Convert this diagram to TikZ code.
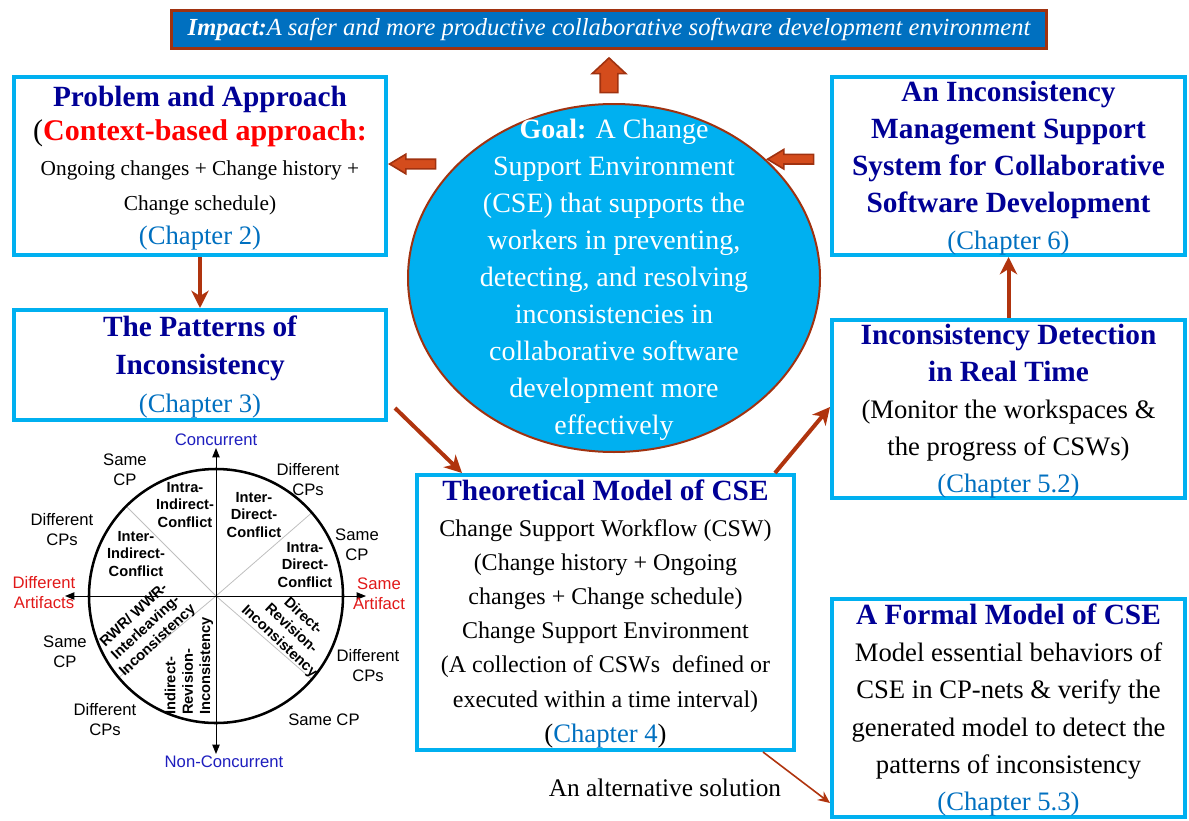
\documentclass[tikz,border=0pt]{standalone}
\usepackage{fontspec}
\setmainfont{Liberation Serif}
\newfontfamily\arialfont{Liberation Sans}
\usetikzlibrary{shapes.geometric,shapes.arrows,arrows.meta}

\definecolor{boxblue}{RGB}{0,176,240}
\definecolor{titleblue}{RGB}{0,0,150}
\definecolor{chapblue}{RGB}{0,112,192}
\definecolor{arrowbrown}{RGB}{176,52,14}
\definecolor{blockfill}{RGB}{212,76,28}
\definecolor{blockedge}{RGB}{160,50,16}
\definecolor{impactfill}{RGB}{0,112,192}
\definecolor{axisblue}{RGB}{30,30,190}
\definecolor{axisred}{RGB}{225,25,25}

\newcommand{\ttlfont}{\fontsize{22}{26}\selectfont\bfseries\color{titleblue}}
\newcommand{\chapfont}{\fontsize{20}{26}\selectfont\color{chapblue}}

\tikzset{every picture/.style={line width=0.75pt}}
\tikzset{
  chapbox/.style={rectangle, draw=boxblue, line width=3pt, fill=white, inner sep=0pt},
  boxtext/.style={align=center, inner sep=0pt},
  linkarrow/.style={draw=arrowbrown, line width=3pt, -{Stealth[length=13pt,width=13pt,inset=4pt]}},
  thinarrow/.style={draw=arrowbrown, line width=1.2pt, -{Stealth[length=9pt,width=8pt,inset=3pt]}},
  upblock/.style={single arrow, draw=blockedge, fill=blockfill, line width=1.2pt, inner xsep=0pt, inner ysep=6pt, single arrow head extend=6pt, single arrow tip angle=94, minimum height=26pt},
  sideblock/.style={single arrow, draw=blockedge, fill=blockfill, line width=1.2pt, inner xsep=0pt, inner ysep=3pt, single arrow head extend=3.75pt, single arrow tip angle=62, minimum height=34.5pt},
  outlbl/.style={align=center, inner sep=0pt, font=\arialfont\fontsize{12.5}{15}\selectfont},
  inlbl/.style={align=center, inner sep=0pt, font=\arialfont\bfseries\fontsize{11}{13}\selectfont},
  divline/.style={draw=black!25, line width=0.6pt},
  axisline/.style={line width=0.75pt, {Triangle[length=7pt,width=5.5pt]}-{Triangle[length=7pt,width=5.5pt]}},
}

\begin{document}
\begin{tikzpicture}[x=0.75pt,y=0.75pt,yscale=-1,xscale=1]
\useasboundingbox (0,0) rectangle (1189,821);

%Shape: Impact banner
\node[rectangle, draw=blockedge, fill=impactfill, line width=2pt, minimum width=656pt, minimum height=28.5pt, inner sep=0pt, text=white, font=\fontsize{18.4}{22}\selectfont\itshape] (impact) at (609,29.5) {\textbf{Impact:}A safer and more productive collaborative software development environment};

%Shape: Goal ellipse
\node[ellipse, draw=blockedge, fill=boxblue, line width=1.5pt, minimum width=309pt, minimum height=261pt, inner sep=0pt] (goal) at (614,278) {};
% Text Node
\node[boxtext, text=white, font=\fontsize{21}{27.75}\selectfont] (goaltext) at ([shift={(0,2)}]goal.center) {\textbf{Goal:} A Change\\Support Environment\\(CSE) that supports the\\workers in preventing,\\detecting, and resolving\\inconsistencies in\\collaborative software\\development more\\effectively};

%Shape: Chapter boxes
\node[chapbox, minimum width=279pt, minimum height=133.5pt] (probbox) at (200,166) {};
\node[chapbox, minimum width=279pt, minimum height=82.5pt] (patbox) at (200,365) {};
\node[chapbox, minimum width=282.75pt, minimum height=206.25pt] (theobox) at (605.5,612.5) {};
\node[chapbox, minimum width=264.75pt, minimum height=133.5pt] (mgmtbox) at (1008.5,166) {};
\node[chapbox, minimum width=264.75pt, minimum height=133.5pt] (detbox) at (1008.5,409) {};
\node[chapbox, minimum width=264.75pt, minimum height=163.5pt] (formbox) at (1008.5,708) {};

% Text Node
\node[boxtext, font=\fontsize{16}{26}\selectfont] (probtext) at ([shift={(0,2)}]probbox.center) {{\ttlfont Problem and Approach}\\{\fontsize{22.5}{26}\selectfont(\textcolor{red}{\bfseries Context-based approach:}}\\Ongoing changes + Change history +\\Change schedule)\\{\chapfont (Chapter 2)}};
% Text Node
\node[boxtext, font=\fontsize{20}{28.5}\selectfont] (pattext) at ([shift={(0,2)}]patbox.center) {{\ttlfont The Patterns of}\\{\ttlfont Inconsistency}\\{\chapfont (Chapter 3)}};
% Text Node
\node[boxtext, font=\fontsize{18}{25.5}\selectfont] (theotext) at ([shift={(0,2)}]theobox.center) {{\ttlfont Theoretical Model of CSE}\\[1pt]Change Support Workflow (CSW)\\(Change history + Ongoing\\changes + Change schedule)\\Change Support Environment\\(A collection of CSWs\ \ defined or\\[1pt]executed within a time interval)\\[1pt]{\fontsize{20}{26}\selectfont(\textcolor{chapblue}{Chapter 4})}};
% Text Node
\node[boxtext, font=\fontsize{20}{27.75}\selectfont] (mgmttext) at ([shift={(0,2)}]mgmtbox.center) {{\ttlfont An Inconsistency}\\{\ttlfont Management Support}\\{\ttlfont System for Collaborative}\\{\ttlfont Software Development}\\{\chapfont (Chapter 6)}};
% Text Node
\node[boxtext, font=\fontsize{20}{27.75}\selectfont] (dettext) at ([shift={(0,2)}]detbox.center) {{\ttlfont Inconsistency Detection}\\{\ttlfont in Real Time}\\(Monitor the workspaces \&\\the progress of CSWs)\\{\chapfont (Chapter 5.2)}};
% Text Node
\node[boxtext, font=\fontsize{20}{28}\selectfont] (formtext) at ([shift={(0,2)}]formbox.center) {{\ttlfont A Formal Model of CSE}\\Model essential behaviors of\\CSE in CP-nets \& verify the\\generated model to detect the\\patterns of inconsistency\\{\chapfont (Chapter 5.3)}};

%Shape: Block arrows
\node[upblock, rotate=90, anchor=tip] (upgoal) at ([shift={(0,7)}]impact.south) {};
\node[sideblock, rotate=180, anchor=tip] (toprob) at ([shift={(0,-2)}]probbox.east) {};
\node[sideblock, rotate=180, anchor=tip] (togoal) at (goal.38) {};

%Straight Lines
\draw[linkarrow] (probbox.south) -- (patbox.north);
\draw[linkarrow] ([shift={(7,-14)}]patbox.south east) -- ([shift={(47,0)}]theobox.north west);
\draw[linkarrow] ([shift={(-21,0)}]theobox.north east) -- ([shift={(0,-2)}]detbox.west);
\draw[linkarrow] (detbox.north) -- (mgmtbox.south);
\draw[thinarrow] ([shift={(-33,0)}]theobox.south east) -- ([shift={(0,95)}]formbox.west);
% Text Node
\node[inner sep=0pt, font=\fontsize{19}{22}\selectfont] (altlabel) at (665,788) {An alternative solution};

%Shape: Pattern circle
\coordinate (cc) at (216,596);
\foreach \a in {-135,-41,41,140}
  \draw[divline] (cc) -- ++(\a:127);
\draw[line width=1.9pt] (cc) circle [radius=127];
\draw[axisline] (216,448) -- (216,754);
\draw[axisline] (65,596) -- (366,596);

% Text Node
\node[outlbl, text=axisblue] (lblconc) at (216,440) {Concurrent};
\node[outlbl, text=axisblue] (lblnonconc) at (224,762) {Non-Concurrent};
\node[outlbl, text=axisred] (lbldiffart) at (44,593) {Different\\Artifacts};
\node[outlbl, text=axisred] (lblsameart) at (379,594) {Same\\Artifact};
\node[outlbl] (lblsame1) at (125,470) {Same\\CP};
\node[outlbl] (lbldiff1) at (308,480) {Different\\CPs};
\node[outlbl] (lbldiff2) at (62,530) {Different\\CPs};
\node[outlbl] (lblsame2) at (357,545) {Same\\CP};
\node[outlbl] (lblsame3) at (65,652) {Same\\CP};
\node[outlbl] (lbldiff3) at (105,720) {Different\\CPs};
\node[outlbl] (lbldiff4) at (368,666) {Different\\CPs};
\node[outlbl] (lblsame4) at (324,720) {Same CP};

% Text Node
\node[inlbl] (intraind) at (185,505) {Intra-\\Indirect-\\Conflict};
\node[inlbl] (interdir) at (254,515) {Inter-\\Direct-\\Conflict};
\node[inlbl] (interind) at (136,554) {Inter-\\Indirect-\\Conflict};
\node[inlbl] (intradir) at (305,565) {Intra-\\Direct-\\Conflict};
\node[inlbl, rotate=43] (rwrlbl) at (146,628) {RWR/ WWR-\\Interleaving-\\Inconsistency};
\node[inlbl, rotate=90, align=left] (indrev) at (189,666) {Indirect-\\Revision-\\Inconsistency};
\node[inlbl, rotate=-43] (dirrev) at (291,629) {Direct-\\Revision-\\Inconsistency};

\end{tikzpicture}
\end{document}
